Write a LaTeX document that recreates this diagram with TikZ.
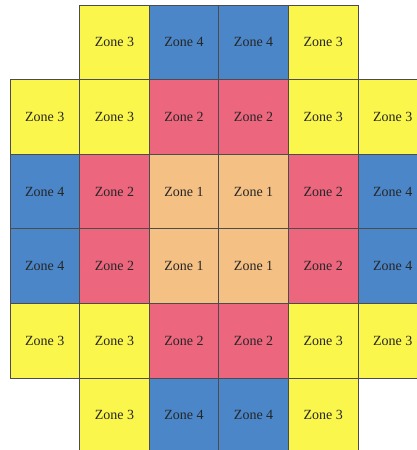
\documentclass[tikz,border=0pt]{standalone}
\usepackage{fontspec}
\setmainfont{Liberation Serif}
\usepackage{tikz}

\definecolor{zoneone}{RGB}{245,192,132}
\definecolor{zonetwo}{RGB}{236,102,126}
\definecolor{zonethree}{RGB}{250,246,76}
\definecolor{zonefour}{RGB}{74,134,200}

\tikzset{
    zone/.style={draw=black!70, line width=0.8pt, minimum width=69.6pt, minimum height=74.6pt,
                 inner sep=0pt, text=black!85, font=\fontsize{14}{16}\selectfont},
    zone1/.style={zone, fill=zoneone},
    zone2/.style={zone, fill=zonetwo},
    zone3/.style={zone, fill=zonethree},
    zone4/.style={zone, fill=zonefour}
}

\begin{document}
\begin{tikzpicture}[x=1pt, y=1pt]
    \useasboundingbox (0,0) rectangle (417,-450);
    \clip (0,0) rectangle (417,-450);

    % Top row
    \node[zone3] (r0c1) at (114.4, -42.3) {Zone 3};
    \node[zone4] (r0c2) at (184.0, -42.3) {Zone 4};
    \node[zone4] (r0c3) at (253.6, -42.3) {Zone 4};
    \node[zone3] (r0c4) at (323.2, -42.3) {Zone 3};

    % Second row
    \node[zone3] (r1c0) at (44.8, -116.9) {Zone 3};
    \node[zone3] (r1c1) at (114.4, -116.9) {Zone 3};
    \node[zone2] (r1c2) at (184.0, -116.9) {Zone 2};
    \node[zone2] (r1c3) at (253.6, -116.9) {Zone 2};
    \node[zone3] (r1c4) at (323.2, -116.9) {Zone 3};
    \node[zone3] (r1c5) at (392.8, -116.9) {Zone 3};

    % Middle rows
    \node[zone4] (r2c0) at (44.8, -191.5) {Zone 4};
    \node[zone2] (r2c1) at (114.4, -191.5) {Zone 2};
    \node[zone1] (r2c2) at (184.0, -191.5) {Zone 1};
    \node[zone1] (r2c3) at (253.6, -191.5) {Zone 1};
    \node[zone2] (r2c4) at (323.2, -191.5) {Zone 2};
    \node[zone4] (r2c5) at (392.8, -191.5) {Zone 4};

    \node[zone4] (r3c0) at (44.8, -266.1) {Zone 4};
    \node[zone2] (r3c1) at (114.4, -266.1) {Zone 2};
    \node[zone1] (r3c2) at (184.0, -266.1) {Zone 1};
    \node[zone1] (r3c3) at (253.6, -266.1) {Zone 1};
    \node[zone2] (r3c4) at (323.2, -266.1) {Zone 2};
    \node[zone4] (r3c5) at (392.8, -266.1) {Zone 4};

    % Fifth row
    \node[zone3] (r4c0) at (44.8, -340.7) {Zone 3};
    \node[zone3] (r4c1) at (114.4, -340.7) {Zone 3};
    \node[zone2] (r4c2) at (184.0, -340.7) {Zone 2};
    \node[zone2] (r4c3) at (253.6, -340.7) {Zone 2};
    \node[zone3] (r4c4) at (323.2, -340.7) {Zone 3};
    \node[zone3] (r4c5) at (392.8, -340.7) {Zone 3};

    % Bottom row
    \node[zone3] (r5c1) at (114.4, -415.3) {Zone 3};
    \node[zone4] (r5c2) at (184.0, -415.3) {Zone 4};
    \node[zone4] (r5c3) at (253.6, -415.3) {Zone 4};
    \node[zone3] (r5c4) at (323.2, -415.3) {Zone 3};
\end{tikzpicture}
\end{document}
